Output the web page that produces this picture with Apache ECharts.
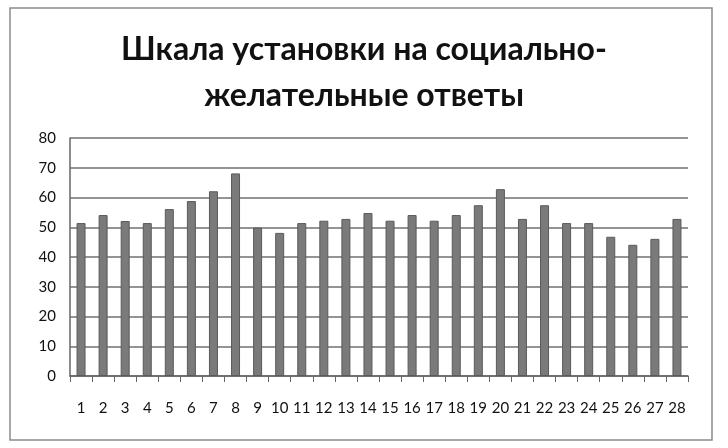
<!DOCTYPE html>
<html>
<head>
<meta charset="utf-8">
<script src="https://cdn.jsdelivr.net/npm/echarts@6/dist/echarts.min.js"></script>
<style>
  html, body { margin: 0; padding: 0; background: #fff; }
  #chart { width: 728px; height: 448px; }
</style>
</head>
<body>
<div id="chart"></div>
<script>
// данные шкалы
const categories = ['1','2','3','4','5','6','7','8','9','10','11','12','13','14',
  '15','16','17','18','19','20','21','22','23','24','25','26','27','28'];
const values = [51.4, 54.1, 52.1, 51.4, 56.1, 58.8, 62.1, 68.1, 49.9, 48.1, 51.4, 52.2, 52.8, 54.8,
  52.2, 54.1, 52.2, 54.1, 57.4, 62.8, 52.8, 57.4, 51.4, 51.4, 46.8, 44.1, 46.1, 52.8];
const titleText = 'Шкала установки на социально-\nжелательные ответы';

const chart = echarts.init(document.getElementById('chart'));

chart.setOption({
  backgroundColor: '#fff',
  animation: false,
  graphic: [{
    type: 'rect',
    shape: { x: 10, y: 8, width: 702, height: 432 },
    style: { fill: 'none', stroke: '#8c8c8c', lineWidth: 1.5 },
    silent: true
  }],
  title: {
    text: titleText,
    left: 'center',
    top: 22,
    textStyle: {
      fontFamily: 'Lato',
      fontWeight: 'bold',
      fontSize: 32,
      lineHeight: 46,
      color: '#111'
    }
  },
  grid: { left: 70, right: 40, top: 138, bottom: 72 },
  xAxis: {
    type: 'category',
    data: categories,
    axisLine: { lineStyle: { color: '#666', width: 1.5 } },
    axisTick: { show: true, length: 6, lineStyle: { color: '#666' } },
    axisLabel: {
      interval: 0,
      margin: 25,
      color: '#111',
      fontFamily: 'Lato',
      fontSize: 15
    }
  },
  yAxis: {
    type: 'value',
    min: 0,
    max: 80,
    interval: 10,
    axisLine: { show: true, lineStyle: { color: '#666', width: 1.5 } },
    axisTick: { show: false },
    splitLine: { lineStyle: { color: '#707070', width: 1.5 } },
    axisLabel: {
      margin: 14,
      color: '#111',
      fontFamily: 'Lato',
      fontSize: 15
    }
  },
  series: [{
    type: 'bar',
    data: values,
    barWidth: 9,
    itemStyle: { color: '#7a7a7a', borderColor: '#5a5a5a', borderWidth: 1 }
  }]
});
</script>
</body>
</html>
